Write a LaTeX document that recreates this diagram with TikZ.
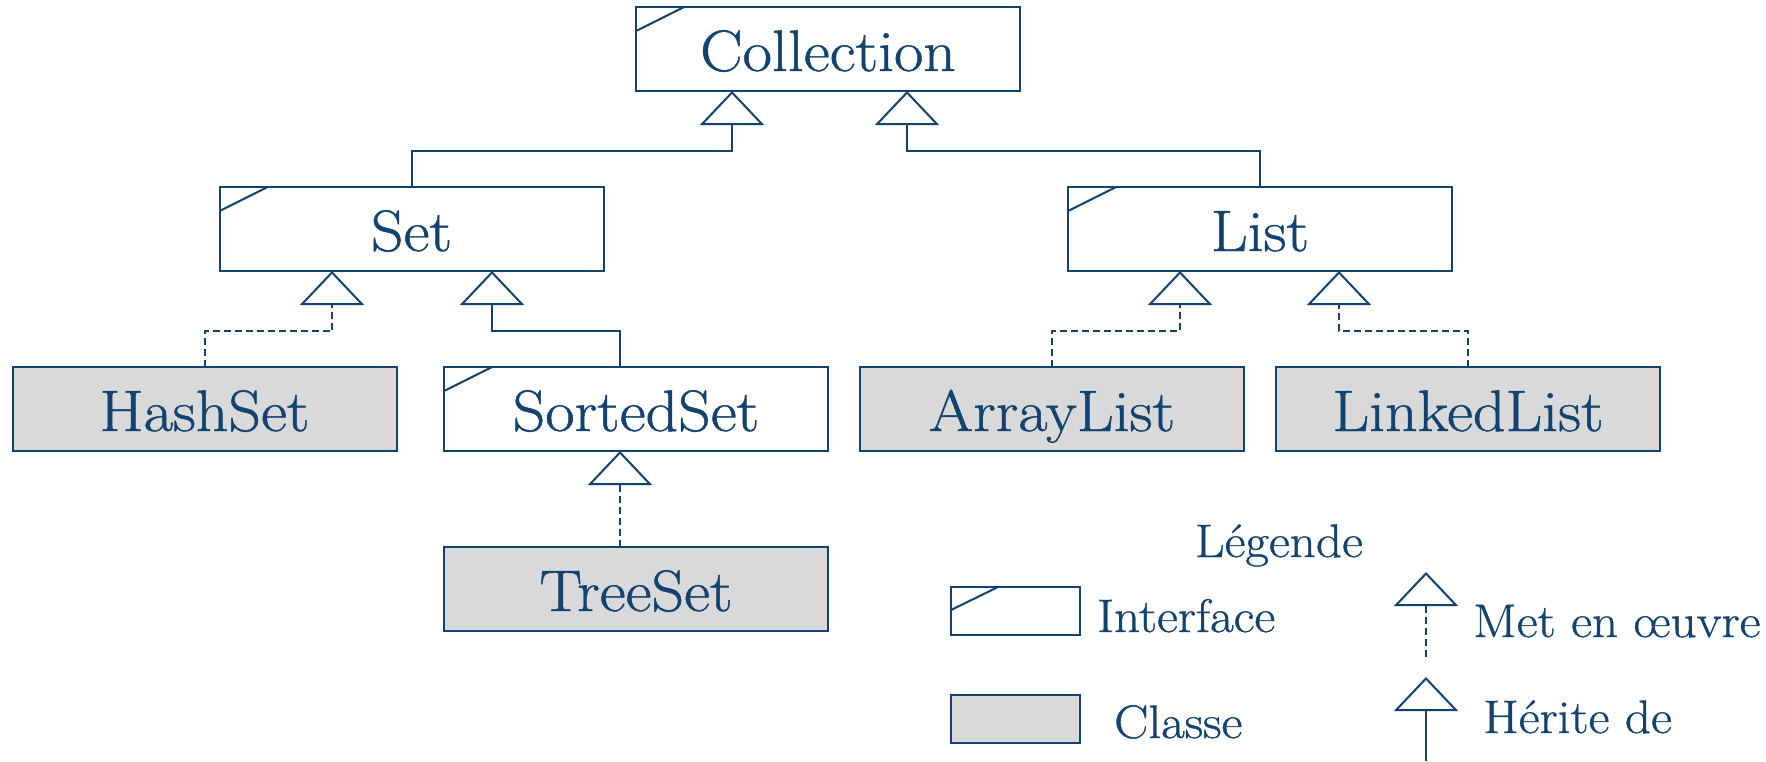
\documentclass[tikz,border=0pt]{standalone}
\usepackage{fontspec}
\setmainfont{Latin Modern Roman}[FakeStretch=1.09, FakeBold=0.8]
\usetikzlibrary{arrows.meta}
\definecolor{ink}{RGB}{18,66,112}
\definecolor{classgray}{RGB}{217,217,217}
\tikzset{
  box/.style={draw=ink, line width=2pt, outer sep=0pt, minimum width=384pt,
    minimum height=84pt, inner sep=0pt, text=ink,
    font=\fontsize{58.5}{60}\selectfont, text height=44pt, text depth=0pt},
  iface/.style={box, fill=white},
  cls/.style={box, fill=classgray},
  inh/.style={draw=ink, line width=2pt,
    -{Triangle[open, length=34pt, width=64pt]}},
  impl/.style={inh, dash pattern=on 7pt off 4pt},
  corner/.style={draw=ink, line width=2pt},
  legtext/.style={text=ink, font=\fontsize{47}{50}\selectfont,
    inner sep=0pt, anchor=base west},
}
\begin{document}
\begin{tikzpicture}[x=1pt, y=-1pt]
\useasboundingbox (0,0) rectangle (1766,761);

% interfaces and classes
\node[iface] (collection) at (828,49)    {Collection};
\node[iface] (set)        at (411.5,229) {Set};
\node[iface] (list)       at (1260,229)  {List};
\node[cls]   (hashset)    at (204.5,409) {HashSet};
\node[iface] (sortedset)  at (636,409)   {SortedSet};
\node[cls]   (arraylist)  at (1052,409)  {ArrayList};
\node[cls]   (linkedlist) at (1468,409)  {LinkedList};
\node[cls]   (treeset)    at (636,589)   {TreeSet};

% interface marks
\foreach \n in {collection,set,list,sortedset}
  \draw[corner] ([yshift=-24pt]\n.north west) -- ([xshift=48pt]\n.north west);

% elbow points
\coordinate (c1) at (732,151);
\coordinate (c2) at (907,151);
\coordinate (s1) at (332,331);
\coordinate (s2) at (492,331);
\coordinate (l1) at (1180,331);
\coordinate (l2) at (1339,331);

% inheritance and implementation
\draw[inh]  (set.north)  |- (c1) -- (c1 |- collection.south);
\draw[inh]  (list.north) |- (c2) -- (c2 |- collection.south);
\draw[impl] (hashset.north) |- (s1) -- (s1 |- set.south);
\draw[inh]  ([xshift=-16pt]sortedset.north) |- (s2) -- (s2 |- set.south);
\draw[impl] ([xshift=-16pt]treeset.north) -- ([xshift=-16pt]sortedset.south);
\draw[impl] (arraylist.north) |- (l1) -- (l1 |- list.south);
\draw[impl] (linkedlist.north) |- (l2) -- (l2 |- list.south);

% legend
\node[text=ink, font=\fontsize{47}{50}\selectfont, inner sep=0pt, anchor=base]
  (legend) at (1279,557) {Légende};
\node[iface, minimum width=129pt, minimum height=48pt] (keyiface) at (1015.5,611) {};
\draw[corner] ([yshift=-23pt]keyiface.north west) -- ([xshift=47pt]keyiface.north west);
\node[cls, minimum width=129pt, minimum height=48pt] (keycls) at (1015.5,718.5) {};
\node[legtext] (tiface) at (1097,632) {Interface};
\node[legtext] (tcls)   at (1114,738) {Classe};

\coordinate (m1) at (1426,657);
\coordinate (m2) at (1426,572);
\draw[impl] (m1) -- (m2);
\coordinate (h1) at (1426,761);
\coordinate (h2) at (1426,677);
\draw[inh] (h1) -- (h2);
\node[legtext] (timpl) at (1473,637) {Met en œuvre};
\node[legtext] (tinh)  at (1483,733) {Hérite de};
\end{tikzpicture}
\end{document}
